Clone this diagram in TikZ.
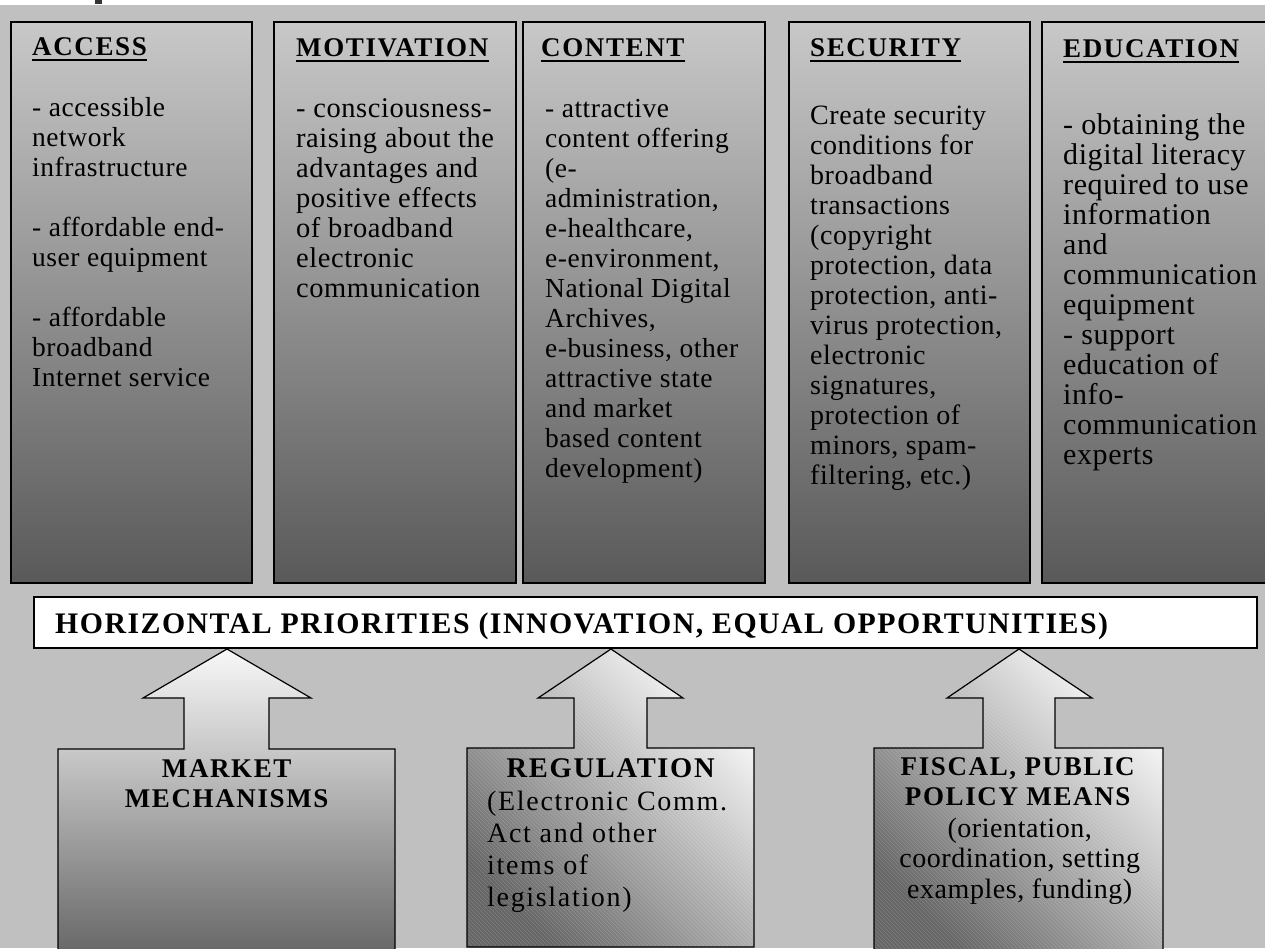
\documentclass[tikz,border=0pt]{standalone}
\usepackage{fontspec}
\setmainfont{Liberation Serif}
\newfontfamily\bodyf[LetterSpace=2,Ligatures=NoCommon]{Liberation Serif}
\newfontfamily\headf[LetterSpace=6,Ligatures=NoCommon]{Liberation Serif}
\newfontfamily\barf[LetterSpace=5,Ligatures=NoCommon]{Liberation Serif}
\newfontfamily\regf[LetterSpace=6,Ligatures=NoCommon]{Liberation Serif}
\definecolor{bgc}{HTML}{C0C0C0}
\definecolor{colTop}{HTML}{C8C8C8}
\definecolor{colBot}{HTML}{595959}
\definecolor{arrTop}{HTML}{F8F8F8}
\definecolor{arrBot}{HTML}{686868}
\definecolor{diagLight}{HTML}{F8F8F8}
\definecolor{diagDark}{HTML}{666666}
\newcommand\tline[1]{\hbox{#1}}
\newcommand\cenline[1]{\hbox to 0pt{\hss#1\hss}}
\newcommand\textcol[1]{\vtop{\lineskiplimit=-100pt\lineskip=0pt #1}}
\begin{document}
\begin{tikzpicture}[x=1pt,y=-1pt,
  colbox/.style={draw=black, line width=1.2pt, top color=colTop, bottom color=colBot},
  barbox/.style={draw=black, line width=1.2pt, fill=white},
  arrowone/.style={draw=black, line width=1.2pt, top color=arrTop, bottom color=arrBot},
  hatchline/.style={draw=white, draw opacity=0.16, line width=0.5pt},
  arrowtwo/.style={draw=black, line width=1.2pt, top color=diagLight, bottom color=diagDark, shading angle=-45,
     path picture={
       \foreach \k in {-320,-316,...,300}
         \path[hatchline] ([xshift=\k pt]path picture bounding box.north west) -- ++(320,320);
     }},
  headtxt/.style={anchor=base west, inner sep=0pt, font=\headf\bfseries\fontsize{27}{30}\selectfont},
  bodytxt/.style={anchor=base west, inner sep=0pt, font=\bodyf\fontsize{#1}{30}\selectfont},
  bodytxt/.default=27.5,
  uline/.style={line width=2.6pt},
]
\useasboundingbox (0,0) rectangle (1265,948);
\fill[white] (0,0) rectangle (1265,5);
\fill[bgc] (0,5) rectangle (1265,948);
\fill[black!80] (95,0) rectangle (102,4);

% columns
\path[colbox] (11,22) rectangle (252,583);
\path[colbox] (274,22) rectangle (516,583);
\path[colbox] (523,22) rectangle (765,583);
\path[colbox] (789,22) rectangle (1030,583);
\path[colbox] (1042,22) rectangle (1290,583);

% headers
\node[headtxt] (hA) at (32,55) {ACCESS};
\node[headtxt] (hM) at (296,56) {MOTIVATION};
\node[headtxt] (hC) at (541,56) {CONTENT};
\node[headtxt] (hS) at (810,56) {SECURITY};
\node[headtxt] (hE) at (1063,57) {EDUCATION};
\foreach \h in {hA,hM,hC,hS,hE}{
  \draw[uline] ([yshift=-5pt]\h.base west) -- ([yshift=-5pt]\h.base east);
}

% column texts
\node[bodytxt] (tA) at (32,116) {\textcol{%
  \tline{- accessible}\tline{network}\tline{infrastructure}\tline{}%
  \tline{- affordable end-}\tline{user equipment}\tline{}%
  \tline{- affordable}\tline{broadband}\tline{Internet service}}};
\node[bodytxt=28.5] (tM) at (296,117) {\textcol{%
  \tline{- consciousness-}\tline{raising about the}\tline{advantages and}%
  \tline{positive effects}\tline{of broadband}\tline{electronic}\tline{communication}}};
\node[bodytxt] (tC) at (545,117) {\textcol{%
  \tline{- attractive}\tline{content offering}\tline{(e-}\tline{administration,}%
  \tline{e-healthcare,}\tline{e-environment,}\tline{National Digital}\tline{Archives,}%
  \tline{e-business, other}\tline{attractive state}\tline{and market}%
  \tline{based content}\tline{development)}}};
\node[bodytxt=28] (tS) at (810,124) {\textcol{%
  \tline{Create security}\tline{conditions for}\tline{broadband}\tline{transactions}%
  \tline{(copyright}\tline{protection, data}\tline{protection, anti-}%
  \tline{virus protection,}\tline{electronic}\tline{signatures,}%
  \tline{protection of}\tline{minors, spam-}\tline{filtering, etc.)}}};
\node[bodytxt=30] (tE) at (1063,134) {\textcol{%
  \tline{- obtaining the}\tline{digital literacy}\tline{required to use}%
  \tline{information}\tline{and}\tline{communication}\tline{equipment}%
  \tline{- support}\tline{education of}\tline{info-}\tline{communication}\tline{experts}}};

% horizontal bar
\path[barbox] (34,597) rectangle (1257,648);
\node[anchor=base west, inner sep=0pt, font=\barf\bfseries\fontsize{29.8}{30}\selectfont] (hp) at (55,633)
  {HORIZONTAL PRIORITIES (INNOVATION, EQUAL OPPORTUNITIES)};

% block arrows
\path[arrowone] (227,649) -- (311,698) -- (269,698) -- (269,749) -- (395,749) -- (395,952)
  -- (58,952) -- (58,749) -- (184,749) -- (184,698) -- (143,698) -- cycle;
\path[arrowtwo] (611,649) -- (683,698) -- (647,698) -- (647,748) -- (754,748) -- (754,947)
  -- (467,947) -- (467,748) -- (574,748) -- (574,698) -- (538,698) -- cycle;
\path[arrowtwo] (1019,649) -- (1092,698) -- (1055,698) -- (1055,748) -- (1163,748) -- (1163,952)
  -- (874,952) -- (874,748) -- (983,748) -- (983,698) -- (947,698) -- cycle;

% arrow labels
\node[headtxt] (mm) at (226,777) {\textcol{\cenline{MARKET}\cenline{MECHANISMS}}};
\node[anchor=base west, inner sep=0pt, font=\regf\bfseries\fontsize{28.5}{30}\selectfont] (rg) at (610,777)
  {\textcol{\cenline{REGULATION}}};
\node[anchor=base west, inner sep=0pt, font=\regf\fontsize{28}{32}\selectfont] (rgt) at (487,810)
  {\textcol{\tline{(Electronic Comm.}\tline{Act and other}\tline{items of}\tline{legislation)}}};
\node[headtxt] (fp) at (1017,775) {\textcol{\cenline{FISCAL, PUBLIC}\cenline{POLICY MEANS}}};
\node[anchor=base west, inner sep=0pt, font=\bodyf\fontsize{28}{30.5}\selectfont] (fpt) at (1019,837)
  {\textcol{\cenline{(orientation,}\cenline{coordination, setting}\cenline{examples, funding)}}};
\end{tikzpicture}
\end{document}
